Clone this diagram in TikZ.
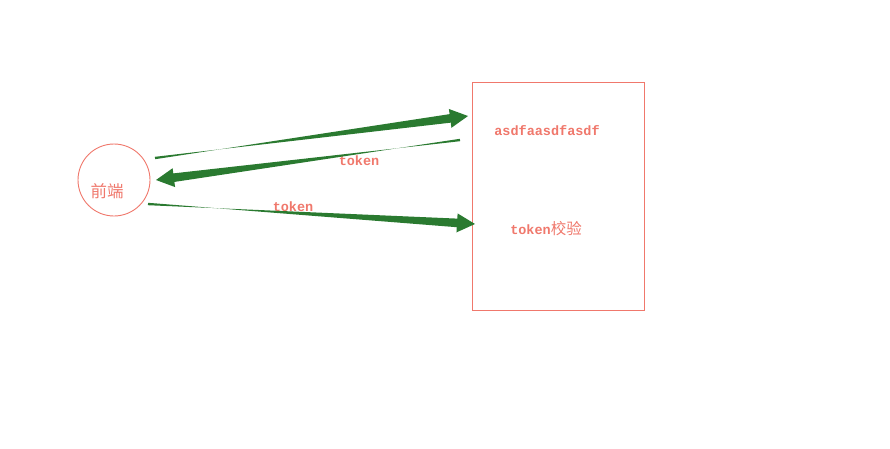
\documentclass[tikz,border=0pt]{standalone}
\usepackage{fontspec}
\setmonofont{Liberation Mono}
\newfontfamily\cjk{Noto Sans CJK SC}
\usetikzlibrary{calc}
\definecolor{salmon}{RGB}{240,120,108}
\definecolor{arrowgreen}{RGB}{42,122,48}
\tikzset{
  shapeline/.style={draw=salmon, line width=0.9pt},
  lbl/.style={text=salmon, font=\ttfamily\bfseries\fontsize{13.5}{15}\selectfont, inner sep=0pt},
  cjklbl/.style={text=salmon, font=\cjk\fontsize{16.5}{18}\selectfont, inner sep=0pt},
}
% tapered arrow: #1 start, #2 end
\newcommand{\taperarrow}[2]{%
  \coordinate (H) at ($(#2)!18pt!(#1)$);
  \fill[arrowgreen] ($(#1)!1.2pt!90:(#2)$) -- ($(H)!4.3pt!-90:(#2)$) -- ($(H)!9.5pt!-90:(#2)$) -- (#2)
     -- ($(H)!9.5pt!90:(#2)$) -- ($(H)!4.3pt!90:(#2)$) -- ($(#1)!1.2pt!-90:(#2)$) -- cycle;
}
\begin{document}
\begin{tikzpicture}[x=1pt,y=-1pt]
\useasboundingbox (0,0) rectangle (890,448);
\fill[white] (0,0) rectangle (890,448);
\node[circle, shapeline, minimum size=72pt] (fe) at (114,180) {};
\node[cjklbl] (fel) at (107,191) {前端};
\node[shapeline, rectangle, minimum width=172pt, minimum height=228pt, anchor=north west] (srv) at (472,82) {};
\node[lbl] (s1) at (547,131) {asdfaasdfasdf};
\node[lbl] (s2) at (546,229) {token{\cjk\mdseries\fontsize{15.5}{17}\selectfont 校验}};
\node[lbl] (t1) at (359,161) {token};
\node[lbl] (t2) at (293,207) {token};
\coordinate (a1s) at (155,158);
\coordinate (a1e) at (468,116);
\coordinate (a2s) at (460,140);
\coordinate (a2e) at (156,180);
\coordinate (a3s) at (148,204);
\coordinate (a3e) at (475,224);
\taperarrow{a1s}{a1e}
\taperarrow{a2s}{a2e}
\taperarrow{a3s}{a3e}
\end{tikzpicture}
\end{document}
